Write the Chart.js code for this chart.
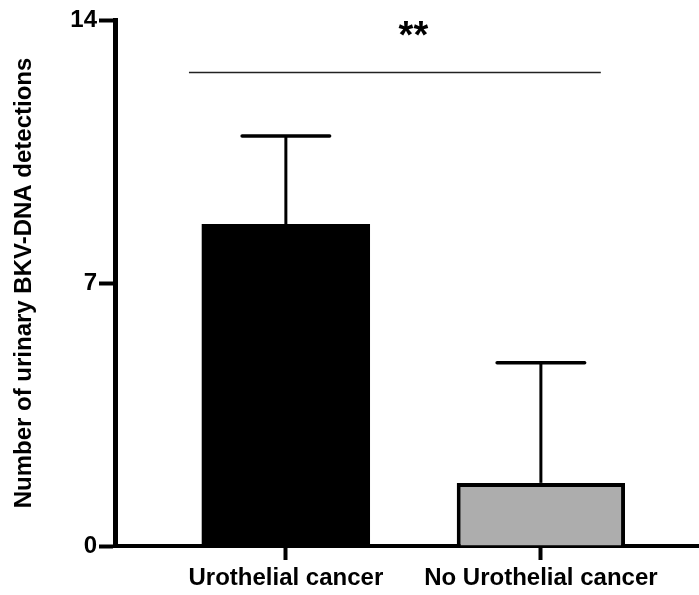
<!DOCTYPE html>
<html>
<head>
<meta charset="utf-8">
<script src="https://cdn.jsdelivr.net/npm/chart.js@4/dist/chart.umd.min.js"></script>
<style>
  html, body { margin: 0; padding: 0; background: #fff; }
  #wrap { width: 699px; height: 595px; position: relative; }
</style>
</head>
<body>
<div id="wrap"><canvas id="chart"></canvas></div>
<script>
// BKV-DNA detections per group, mean with upper SD
const categories = ['Urothelial cancer', 'No Urothelial cancer'];
const means = [8.57, 1.68];
const errors = [2.34, 3.2];
const positions = [1, 2];
const yTicks = [0, 7, 14];
const sigText = '**';
const sigSpan = [0.62, 2.235];
const sigLevel = 12.6;

const FONT = '"Liberation Sans", Arial, Helvetica, sans-serif';

// error bars + significance line, drawn on top of the bars
const errorBars = {
  id: 'errorBars',
  afterDatasetsDraw(chart) {
    const { ctx, scales: { x, y } } = chart;
    const meta = chart.getDatasetMeta(0);
    ctx.save();
    ctx.strokeStyle = '#000';
    meta.data.forEach((bar, i) => {
      const top = y.getPixelForValue(means[i] + errors[i]);
      const half = bar.width * 0.26;
      ctx.lineWidth = 3;
      ctx.lineCap = 'butt';
      ctx.beginPath();
      ctx.moveTo(bar.x, bar.y);
      ctx.lineTo(bar.x, top);
      ctx.stroke();
      ctx.lineWidth = 3.5;
      ctx.lineCap = 'round';
      ctx.beginPath();
      ctx.moveTo(bar.x - half, top);
      ctx.lineTo(bar.x + half, top);
      ctx.stroke();
    });

    const ly = y.getPixelForValue(sigLevel);
    ctx.strokeStyle = '#222';
    ctx.lineWidth = 1.5;
    ctx.lineCap = 'butt';
    ctx.beginPath();
    ctx.moveTo(x.getPixelForValue(sigSpan[0]), ly);
    ctx.lineTo(x.getPixelForValue(sigSpan[1]), ly);
    ctx.stroke();

    ctx.fillStyle = '#000';
    ctx.font = 'bold 38px ' + FONT;
    ctx.textAlign = 'center';
    ctx.textBaseline = 'alphabetic';
    ctx.fillText(sigText, x.getPixelForValue(1.5), y.getPixelForValue(13.25));
    ctx.restore();
  }
};

new Chart(document.getElementById('chart'), {
  type: 'bar',
  data: {
    datasets: [{
      data: positions.map((p, i) => ({ x: p, y: means[i] })),
      backgroundColor: ['#000000', '#adadad'],
      borderColor: '#000',
      borderWidth: [0, 4],
      categoryPercentage: 1,
      barPercentage: 0.66,
    }],
  },
  options: {
    responsive: true,
    maintainAspectRatio: false,
    animation: false,
    layout: { padding: { top: 20, right: 0, bottom: 0, left: 0 } },
    plugins: { legend: { display: false }, tooltip: { enabled: false } },
    scales: {
      x: {
        type: 'linear',
        min: 0.33,
        max: 2.62,
        offset: false,
        afterBuildTicks: (s) => { s.ticks = positions.map(v => ({ value: v })); },
        afterFit: (s) => { s.height = 49; },
        ticks: {
          color: '#000',
          padding: 4,
          font: { family: FONT, size: 24, weight: 'bold' },
          callback: (v) => categories[positions.indexOf(v)],
        },
        grid: { offset: false, drawOnChartArea: false, tickLength: 14, tickWidth: 4, tickColor: '#000' },
        border: { color: '#000', width: 4 },
      },
      y: {
        min: 0,
        max: 14,
        afterBuildTicks: (s) => { s.ticks = yTicks.map(v => ({ value: v })); },
        afterFit: (s) => { s.width = 115; },
        ticks: {
          color: '#000',
          padding: 2,
          font: { family: FONT, size: 24, weight: 'bold' },
        },
        grid: { drawOnChartArea: false, tickLength: 16, tickWidth: 4, tickColor: '#000' },
        border: { color: '#000', width: 5 },
        title: {
          display: true,
          text: 'Number of urinary BKV-DNA detections',
          color: '#000',
          padding: { top: 10, bottom: 4 },
          font: { family: FONT, size: 24, weight: 'bold' },
        },
      },
    },
  },
  plugins: [errorBars],
});
</script>
</body>
</html>
